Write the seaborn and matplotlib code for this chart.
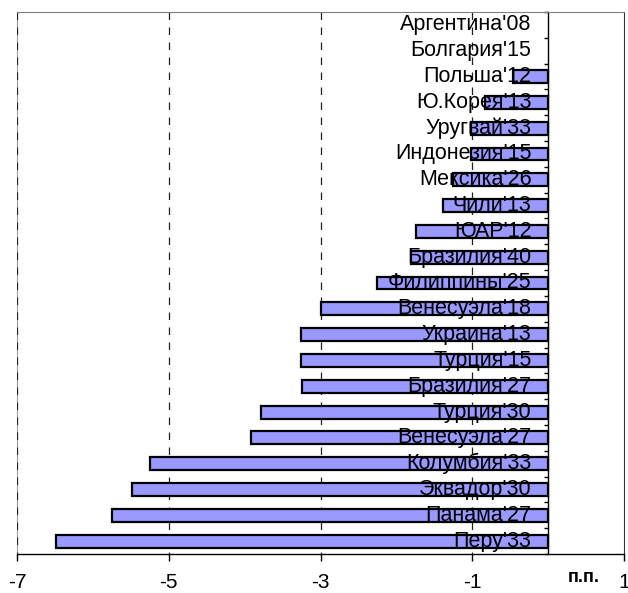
import numpy as np
import pandas as pd
import matplotlib
matplotlib.use("Agg")
import matplotlib.pyplot as plt
import seaborn as sns

sns.set_style("white")
plt.rcParams['font.family'] = ['Liberation Sans', 'DejaVu Sans']
plt.rcParams['text.color'] = 'black'
plt.rcParams['xtick.color'] = 'black'

countries = ["Аргентина'08", "Болгария'15", "Польша'12", "Ю.Корея'13", "Уругвай'33",
             "Индонезия'15", "Мексика'26", "Чили'13", "ЮАР'12", "Бразилия'40",
             "Филиппины'25", "Венесуэла'18", "Украина'13", "Турция'15", "Бразилия'27",
             "Турция'30", "Венесуэла'27", "Колумбия'33", "Эквадор'30", "Панама'27", "Перу'33"]
values = [0.0, 0.0, -0.46, -0.83, -1.01,
          -1.01, -1.25, -1.38, -1.74, -1.81,
          -2.25, -3.0, -3.26, -3.26, -3.25,
          -3.79, -3.92, -5.25, -5.48, -5.75, -6.49]
xticks = [-7, -5, -3, -1, 1]
grid_x = [-7, -5, -3, -1]
unit_label = "п.п."

df = pd.DataFrame({"country": countries, "value": values})

fig = plt.figure(figsize=(6.28, 5.93), dpi=100)
ax = fig.add_axes([17/628, 39/593, 607/628, 542/593])

sns.barplot(data=df, x="value", y="country", orient="h", color="#9999FF",
            saturation=1, width=0.5, edgecolor="black", linewidth=1.6, ax=ax, zorder=2)

# hide zero-length bars
for p in ax.patches:
    if abs(p.get_width()) < 1e-9:
        p.set_visible(False)

ax.set_xlim(-7, 1)
ax.set_ylim(len(countries) - 0.5, -0.5)

# plot-area border and dashed gridlines
ax.vlines([-7], -0.5, len(countries) - 0.5, color="#808080", lw=1.2, zorder=1)
ax.vlines(grid_x, -0.5, len(countries) - 0.5, color="#222222", lw=0.9,
          linestyles=(0, (6, 6)), zorder=1.5)

ax.set_xticks(xticks)
ax.set_xticklabels([str(t) for t in xticks])
ax.set_xlabel("")
ax.set_ylabel("")

ax.spines['left'].set_position(('data', 0))
ax.spines['left'].set_color("black")
ax.spines['left'].set_linewidth(1.0)
ax.spines['bottom'].set_color("black")
ax.spines['bottom'].set_linewidth(1.0)
ax.spines['top'].set_color("#808080")
ax.spines['right'].set_color("#333333")
ax.set_yticks(np.arange(-0.5, len(countries), 1.0))
ax.set_yticklabels([])
ax.tick_params(axis='y', direction='out', length=3, width=1, color='black', left=True)
ax.tick_params(axis='x', direction='out', length=5, width=1, color='black',
               labelcolor='black', bottom=True, labelsize=15, pad=9)

for i, name in enumerate(countries):
    ax.text(-0.22, i, name, ha='right', va='center', fontsize=15.5, color='black', zorder=5)

fig.text(584/628, 1 - 577/593, unit_label, ha='center', va='center',
         fontsize=13, fontweight='bold', color='black')

fig.savefig("out.png", dpi=100)
